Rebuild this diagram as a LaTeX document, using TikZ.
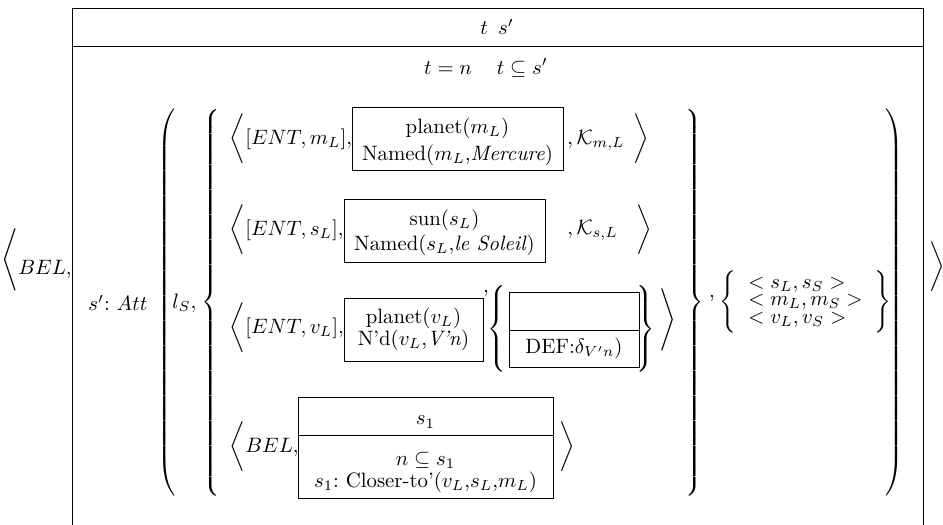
\documentclass[tikz,border=0pt]{standalone}
\usepackage{amssymb}
\usepackage{amsmath}
\usepackage{tikz}

% a delimiter stretched round an empty strut of the given height
\newcommand{\tallbr}[2]{$\left#1\vcenter{\hbox{\vrule height #2 width 0pt}}\right.$}

\begin{document}
\begin{tikzpicture}[x=0.5pt,y=-0.5pt,every node/.style={inner sep=0pt,scale=1.04}]
\useasboundingbox (0,0) rectangle (943,525);
% outer box, open below
\draw (72,525) -- (72,8) -- (923,8) -- (923,525);
\draw (72,46) -- (923,46);
\node (head) at (497,27) {$t\enspace s'$};
\node (cond) at (486,68) {$t = n\hspace{12pt}t \subseteq s'$};
\node (lbel) at (10,260) {$\Biggl\langle$};
\node[anchor=base west] (bel) at (18,274) {$BEL,$};
\node (rbel) at (937,267) {$\biggr\rangle$};
\node[anchor=west] (att) at (88,303) {$s'$:~$Att$};
\node[anchor=west] (ls) at (172,303) {$l_S,$};
\node (lpar) at (168,302.5) {\tallbr{(}{188pt}};
\node (lset) at (212,302.5) {\tallbr{\{}{188pt}};
\node (rset) at (696,302.5) {\tallbr{\}}{188pt}};
\node (rpar) at (896,302.5) {\tallbr{)}{188pt}};
% first referent
\node (la1) at (237,139) {$\biggl\langle$};
\node[anchor=west] (ent1) at (245,139) {$[ENT, m_L],$};
\draw (352,107) rectangle (563,170);
\node (p1) at (457.5,128) {planet($m_L$)};
\node (n1) at (457.5,155) {Named($m_L$,\textit{Mercure})};
\node[anchor=west] (k1) at (567,140) {$,\mathcal{K}_{m,L}$};
\node (ra1) at (641,139) {$\biggr\rangle$};
% second referent
\node (la2) at (237,230) {$\biggl\langle$};
\node[anchor=west] (ent2) at (245,230) {$[ENT, s_L],$};
\draw (344,199) rectangle (545,262);
\node (p2) at (444.5,220) {sun($s_L$)};
\node (n2) at (444.5,245) {Named($s_L$,\textit{le Soleil})};
\node[anchor=west] (k2) at (567,230) {$,\mathcal{K}_{s,L}$};
\node (ra2) at (644,230) {$\biggr\rangle$};
% third referent
\node (la3) at (237,328) {$\biggl\langle$};
\node[anchor=west] (ent3) at (245,328) {$[ENT, v_L],$};
\draw (344,298) rectangle (483,361);
\node (p3) at (413.5,318) {planet($v_L$)};
\node (n3) at (413.5,340) {N'd($v_L$,\textit{V'n})};
\node (c3) at (486,293) {,};
\node (lb3) at (498,329) {\tallbr{\{}{46pt}};
\draw (509,292) rectangle (639,367);
\draw (509,330) -- (639,330);
\node (def) at (574,348) {DEF:$\delta_{V'n}$)};
\node (rb3) at (647,329) {\tallbr{\}}{46pt}};
\node (ra3) at (668,320) {$\Biggr\rangle$};
% embedded belief
\node (la4) at (237,447) {$\biggl\langle$};
\node[anchor=west] (bel4) at (245,447) {$BEL,$};
\draw (298,397) rectangle (553,498);
\draw (298,435) -- (553,435);
\node (s1) at (425.5,422) {$s_1$};
\node (inc) at (425.5,460) {$n \subseteq s_1$};
\node (clo) at (425.5,482) {$s_1$:~Closer-to'($v_L$,$s_L$,$m_L$)};
\node (ra4) at (567,447) {$\biggr\rangle$};
% anchors
\node (c5) at (712,298) {,};
\node (lb5) at (728,302) {$\Biggl\{$};
\node[anchor=west] (pr1) at (748,285) {$<s_L,s_S>$};
\node[anchor=west] (pr2) at (748,302) {$<m_L,m_S>$};
\node[anchor=west] (pr3) at (748,320) {$<v_L,v_S>$};
\node (rb5) at (883,302) {$\Biggr\}$};
\end{tikzpicture}
\end{document}
